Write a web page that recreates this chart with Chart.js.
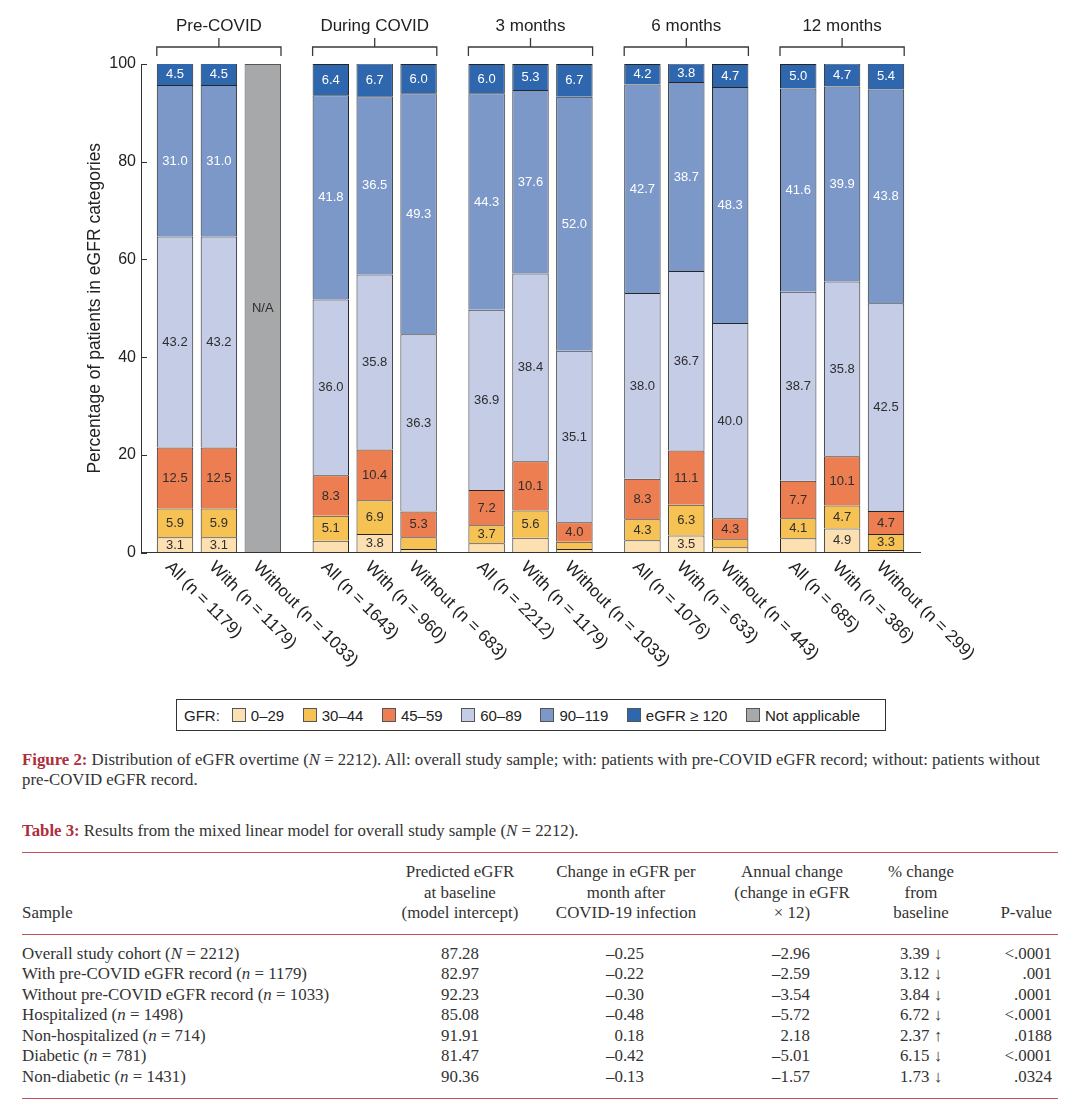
<!DOCTYPE html>
<html>
<head>
<meta charset="utf-8">
<script src="https://cdn.jsdelivr.net/npm/chart.js@4.4.1/dist/chart.umd.min.js"></script>
<style>
html,body{margin:0;padding:0;background:#fff;}
body{width:1080px;height:1114px;position:relative;overflow:hidden;font-family:"Liberation Serif","Times New Roman",serif;color:#333;}
#chartWrap{position:absolute;left:0;top:0;width:1080px;height:692px;}
#legend{position:absolute;left:176px;top:699px;width:701px;height:30px;border:1px solid #333;display:flex;align-items:center;font-family:"Liberation Sans",Arial,sans-serif;font-size:15px;color:#222;white-space:nowrap;padding-left:7px;box-sizing:content-box;}
#legend .lg-item{display:flex;align-items:center;margin-left:18.5px;}
#legend .lg-item.first{margin-left:12px;}
#legend .lg-sw{width:14px;height:14px;border:1px solid #555;box-sizing:border-box;margin-right:5px;}
#caption{position:absolute;left:22px;top:750px;width:1050px;font-size:16.8px;line-height:20px;white-space:nowrap;}
#tabTitle{position:absolute;left:22px;top:821px;font-size:16.8px;line-height:20px;white-space:nowrap;}
.lab{color:#ad2e3c;font-weight:bold;}
#tbl{position:absolute;left:22px;top:852px;width:1036px;border-collapse:collapse;table-layout:fixed;font-size:16.9px;line-height:20.5px;color:#333;}
#tbl thead tr{border-top:1px solid #c2505a;border-bottom:1px solid #c2505a;}
#tbl th{font-weight:normal;vertical-align:bottom;padding:9px 0 10px 0;text-align:center;white-space:nowrap;}
#tbl th.l{text-align:left;}
#tbl td{padding:0;text-align:center;white-space:nowrap;}
#tbl td.l{text-align:left;}
#tbl td.r3{text-align:right;padding-right:80px;}
#tbl td.r4{text-align:right;padding-right:50px;}
#tbl td.r6{text-align:right;padding-right:6px;}
#tbl th.r6{text-align:right;padding-right:6px;}
#tbl tbody tr:first-child td{padding-top:9px;}
#tbl tbody tr:last-child td{padding-bottom:11px;}
#tbl tbody tr:last-child{border-bottom:1px solid #c2505a;}
</style>
</head>
<body>
<div id="chartWrap"><canvas id="c"></canvas></div>
<div id="legend"></div>
<div id="caption"><span class="lab">Figure 2:</span> Distribution of eGFR overtime (<i>N</i> = 2212). All: overall study sample; with: patients with pre-COVID eGFR record; without: patients without<br>pre-COVID eGFR record.</div>
<div id="tabTitle"><span class="lab">Table 3:</span> Results from the mixed linear model for overall study sample (<i>N</i> = 2212).</div>
<table id="tbl">
<colgroup><col style="width:370px"><col style="width:136px"><col style="width:196px"><col style="width:136px"><col style="width:122px"><col style="width:76px"></colgroup>
<thead><tr>
<th class="l">Sample</th>
<th>Predicted eGFR<br>at baseline<br>(model intercept)</th>
<th>Change in eGFR per<br>month after<br>COVID-19 infection</th>
<th>Annual change<br>(change in eGFR<br>× 12)</th>
<th>% change<br>from<br>baseline</th>
<th class="r6">P-value</th>
</tr></thead>
<tbody id="tbody"></tbody>
</table>
<script>
// ---------- chart data ----------
const groups = ['Pre-COVID', 'During COVID', '3 months', '6 months', '12 months'];
const subgroups = ['All', 'With', 'Without'];
const nAll = [1179, 1643, 2212, 1076, 685];
const nWith = [1179, 960, 1179, 633, 386];
const nWithout = [1033, 683, 1033, 443, 299];
const gfrLabels = ['0–29', '30–44', '45–59', '60–89', '90–119', 'eGFR ≥ 120', 'Not applicable'];
// bar order: per group -> All, With, Without
const gfr0_29   = [3.1, 3.1, null, 2.4, 3.8, 0.7, 1.9, 3.0, 0.7, 2.5, 3.5, 1.1, 2.9, 4.9, 0.5];
const gfr30_44  = [5.9, 5.9, null, 5.1, 6.9, 2.4, 3.7, 5.6, 1.5, 4.3, 6.3, 1.6, 4.1, 4.7, 3.3];
const gfr45_59  = [12.5, 12.5, null, 8.3, 10.4, 5.3, 7.2, 10.1, 4.0, 8.3, 11.1, 4.3, 7.7, 10.1, 4.7];
const gfr60_89  = [43.2, 43.2, null, 36.0, 35.8, 36.3, 36.9, 38.4, 35.1, 38.0, 36.7, 40.0, 38.7, 35.8, 42.5];
const gfr90_119 = [31.0, 31.0, null, 41.8, 36.5, 49.3, 44.3, 37.6, 52.0, 42.7, 38.7, 48.3, 41.6, 39.9, 43.8];
const gfr120    = [4.5, 4.5, null, 6.4, 6.7, 6.0, 6.0, 5.3, 6.7, 4.2, 3.8, 4.7, 5.0, 4.7, 5.4];
const notApplicable = [null, null, 100, null, null, null, null, null, null, null, null, null, null, null, null];
const yTicks = [0, 20, 40, 60, 80, 100];

// ---------- table data ----------
const tabSamples = ['Overall study cohort (<i>N</i> = 2212)', 'With pre-COVID eGFR record (<i>n</i> = 1179)', 'Without pre-COVID eGFR record (<i>n</i> = 1033)', 'Hospitalized (<i>n</i> = 1498)', 'Non-hospitalized (<i>n</i> = 714)', 'Diabetic (<i>n</i> = 781)', 'Non-diabetic (<i>n</i> = 1431)'];
const tabBaseline = ['87.28', '82.97', '92.23', '85.08', '91.91', '81.47', '90.36'];
const tabMonthly = ['–0.25', '–0.22', '–0.30', '–0.48', '0.18', '–0.42', '–0.13'];
const tabAnnual = ['–2.96', '–2.59', '–3.54', '–5.72', '2.18', '–5.01', '–1.57'];
const tabPct = ['3.39 ↓', '3.12 ↓', '3.84 ↓', '6.72 ↓', '2.37 ↑', '6.15 ↓', '1.73 ↓'];
const tabP = ['&lt;.0001', '.001', '.0001', '&lt;.0001', '.0188', '&lt;.0001', '.0324'];

// ---------- styles ----------
const colors = ['#fde0b1', '#f6c253', '#ec7e52', '#c4cce6', '#7b98c9', '#2f67ae', '#a7a8aa'];
const labelColors = ['#2e2e2e', '#2e2e2e', '#2e2e2e', '#2e2e2e', '#ffffff', '#ffffff', '#2e2e2e'];
const SANS = '"Liberation Sans", Arial, sans-serif';

// table
document.getElementById('tbody').innerHTML = tabSamples.map((s, i) =>
  `<tr><td class="l">${s}</td><td>${tabBaseline[i]}</td><td class="r3">${tabMonthly[i]}</td><td class="r4">${tabAnnual[i]}</td><td>${tabPct[i]}</td><td class="r6">${tabP[i]}</td></tr>`
).join('');

// legend
document.getElementById('legend').innerHTML = '<span>GFR:</span>' + gfrLabels.map((l, k) =>
  `<span class="lg-item${k === 0 ? ' first' : ''}"><span class="lg-sw" style="background:${colors[k]}"></span>${l}</span>`
).join('');

const series = [gfr0_29, gfr30_44, gfr45_59, gfr60_89, gfr90_119, gfr120, notApplicable];
const nBySub = [nAll, nWith, nWithout];
const datasets = [];
subgroups.forEach((sub, s) => {
  series.forEach((arr, k) => {
    datasets.push({
      label: gfrLabels[k],
      stack: sub,
      catIndex: k,
      subIndex: s,
      data: groups.map((g, gi) => arr[gi * 3 + s]),
      backgroundColor: colors[k],
      borderColor: k === 6 ? '#555' : '#262626',
      borderWidth: { top: 1, right: 1, bottom: 0, left: 1 },
      borderSkipped: false,
      categoryPercentage: 0.845,
      barPercentage: 0.83
    });
  });
});

function barEl(chart, s, g) {
  for (let di = 0; di < chart.data.datasets.length; di++) {
    const ds = chart.data.datasets[di];
    if (ds.subIndex !== s || ds.data[g] == null) continue;
    const el = chart.getDatasetMeta(di).data[g];
    if (el && isFinite(el.x)) return el;
  }
  return null;
}

const decorPlugin = {
  id: 'decor',
  afterDatasetsDraw(chart) {
    const ctx = chart.ctx;
    ctx.save();
    ctx.font = '13px ' + SANS;
    ctx.textAlign = 'center';
    ctx.textBaseline = 'middle';
    chart.data.datasets.forEach((ds, di) => {
      const meta = chart.getDatasetMeta(di);
      meta.data.forEach((el, i) => {
        const v = ds.data[i];
        if (v == null || v <= 3.05) return;
        const p = el.getProps(['x', 'y', 'base'], true);
        ctx.fillStyle = labelColors[ds.catIndex];
        const txt = ds.catIndex === 6 ? 'N/A' : v.toFixed(1);
        ctx.fillText(txt, p.x, (p.y + p.base) / 2 + 0.5);
      });
    });
    ctx.restore();
  },
  afterDraw(chart) {
    const ctx = chart.ctx;
    const area = chart.chartArea;
    const ys = chart.scales.y;
    ctx.save();
    // inward y ticks
    ctx.strokeStyle = '#333';
    ctx.lineWidth = 1;
    yTicks.forEach(v => {
      const y = Math.round(ys.getPixelForValue(v)) + 0.5;
      ctx.beginPath();
      ctx.moveTo(area.left, y);
      ctx.lineTo(area.left + 6, y);
      ctx.stroke();
    });
    // group titles + brackets
    groups.forEach((g, gi) => {
      const a = barEl(chart, 0, gi), b = barEl(chart, 2, gi);
      const left = a.x - a.width / 2, right = b.x + b.width / 2, mid = (left + right) / 2;
      const yb = area.top - 17;
      ctx.strokeStyle = '#3a3a3a';
      ctx.lineWidth = 1.3;
      ctx.beginPath();
      ctx.moveTo(left, area.top - 8);
      ctx.lineTo(left, yb);
      ctx.lineTo(right, yb);
      ctx.lineTo(right, area.top - 8);
      ctx.moveTo(mid, yb);
      ctx.lineTo(mid, yb - 9);
      ctx.stroke();
      ctx.fillStyle = '#222';
      ctx.font = '17px ' + SANS;
      ctx.textAlign = 'center';
      ctx.textBaseline = 'middle';
      ctx.fillText(g, mid, area.top - 38);
    });
    // rotated bar labels
    ctx.fillStyle = '#222';
    ctx.font = '17px ' + SANS;
    ctx.textAlign = 'left';
    ctx.textBaseline = 'middle';
    groups.forEach((g, gi) => {
      subgroups.forEach((sub, s) => {
        const el = barEl(chart, s, gi);
        ctx.save();
        ctx.translate(el.x - 7, area.bottom + 12);
        ctx.rotate(Math.PI / 4);
        ctx.fillText(`${sub} (n = ${nBySub[s][gi]})`, 0, 0);
        ctx.restore();
      });
    });
    ctx.restore();
  }
};

new Chart(document.getElementById('c'), {
  type: 'bar',
  data: { labels: groups, datasets },
  options: {
    responsive: true,
    maintainAspectRatio: false,
    animation: false,
    devicePixelRatio: 1,
    layout: { padding: { top: 64, right: 160, bottom: 0, left: 0 } },
    plugins: { legend: { display: false }, tooltip: { enabled: false } },
    scales: {
      x: {
        type: 'category',
        stacked: true,
        ticks: { display: false },
        grid: { display: false },
        border: { display: true, color: '#333', width: 1 },
        afterFit(scale) { scale.height = 139.5; }
      },
      y: {
        stacked: true,
        min: 0,
        max: 100,
        afterBuildTicks(scale) { scale.ticks = yTicks.map(v => ({ value: v })); },
        ticks: { font: { family: SANS, size: 16 }, color: '#222', padding: 5 },
        grid: { display: true, drawOnChartArea: false, drawTicks: false },
        border: { display: true, color: '#333', width: 1 },
        title: {
          display: true,
          text: 'Percentage of patients in eGFR categories',
          font: { family: SANS, size: 17.5 },
          color: '#222',
          padding: { top: 85, bottom: 0 }
        },
        afterFit(scale) { scale.width = 141; }
      }
    }
  },
  plugins: [decorPlugin]
});
</script>
</body>
</html>
